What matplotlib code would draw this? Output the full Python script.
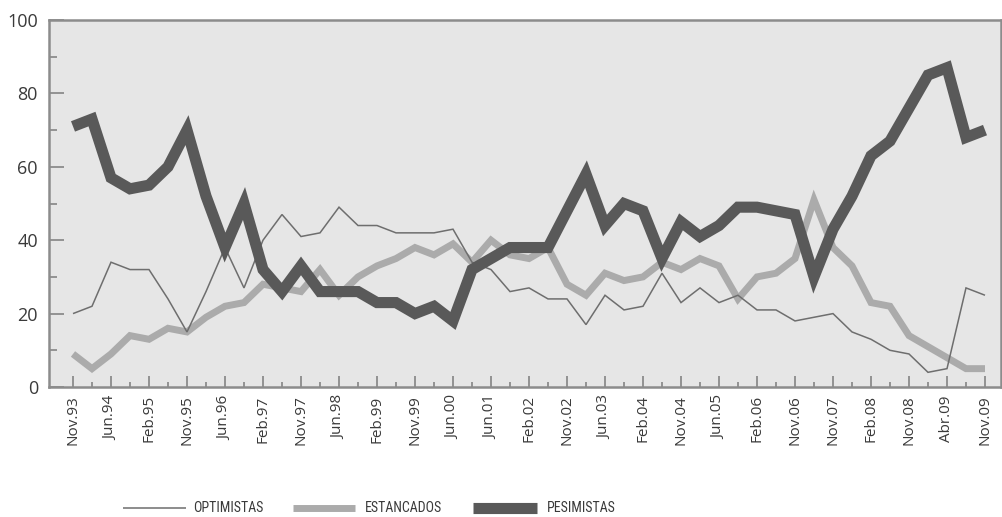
import matplotlib
matplotlib.use("Agg")
import matplotlib.pyplot as plt
from matplotlib.lines import Line2D
from matplotlib import font_manager
import numpy as np

plt.rcParams['font.family'] = ['Open Sans', 'DejaVu Sans']

# ---- data ----
tick_labels = ["Nov.93", "Jun.94", "Feb.95", "Nov.95", "Jun.96", "Feb.97", "Nov.97",
               "Jun.98", "Feb.99", "Nov.99", "Jun.00", "Jun.01", "Feb.02", "Nov.02",
               "Jun.03", "Feb.04", "Nov.04", "Jun.05", "Feb.06", "Nov.06", "Nov.07",
               "Feb.08", "Nov.08", "Abr.09", "Nov.09"]

optimistas = [20, 22, 34, 32, 32, 24, 15, 26, 38, 27,
              40, 47, 41, 42, 49, 44, 44, 42, 42, 42,
              43, 34, 32, 26, 27, 24, 24, 17, 25, 21,
              22, 31, 23, 27, 23, 25, 21, 21, 18, 19,
              20, 15, 13, 10, 9, 4, 5, 27, 25]

estancados = [9, 5, 9, 14, 13, 16, 15, 19, 22, 23,
              28, 27, 26, 32, 25, 30, 33, 35, 38, 36,
              39, 34, 40, 36, 35, 38, 28, 25, 31, 29,
              30, 34, 32, 35, 33, 24, 30, 31, 35, 51,
              38, 33, 23, 22, 14, 11, 8, 5, 5]

pesimistas = [71, 73, 57, 54, 55, 60, 70, 52, 38, 50,
              32, 26, 33, 26, 26, 26, 23, 23, 20, 22,
              18, 32, 35, 38, 38, 38, 48, 58, 44, 50,
              48, 35, 45, 41, 44, 49, 49, 48, 47, 30,
              43, 52, 63, 67, 76, 85, 87, 68, 70]

series_names = ["OPTIMISTAS", "ESTANCADOS", "PESIMISTAS"]

# ---- styling ----
c_opt = "#6e6e6e"
c_est = "#ababab"
c_pes = "#595959"
lw_opt, lw_est, lw_pes = 1.1, 5.0, 8.0
bg = "#e6e6e6"
axis_c = "#8c8c8c"
text_c = "#3a3a3a"

# pick a narrow font for the legend if one is installed
legend_font = None
for cand in ["Liberation Sans Narrow", "DejaVu Sans Condensed", "Roboto Condensed",
             "Open Sans Condensed"]:
    try:
        font_manager.findfont(cand, fallback_to_default=False)
        legend_font = cand
        break
    except Exception:
        pass
if legend_font is None:
    legend_props = dict(family=["Open Sans", "DejaVu Sans"], fontsize=8.5)
else:
    legend_props = dict(family=[legend_font, "DejaVu Sans"], fontsize=10)

W, H = 1002, 517
fig = plt.figure(figsize=(W / 100, H / 100), dpi=100)
left_px, right_px, top_px, bot_px = 49, 1001, 20, 387
ax = fig.add_axes([left_px / W, 1 - bot_px / H, (right_px - left_px) / W, (bot_px - top_px) / H])
ax.set_facecolor(bg)

x = np.arange(len(pesimistas))
kw = dict(solid_joinstyle="miter", solid_capstyle="butt")
ax.plot(x, optimistas, color=c_opt, lw=lw_opt, **kw, zorder=3)
ax.plot(x, estancados, color=c_est, lw=lw_est, **kw, zorder=2)
ax.plot(x, pesimistas, color=c_pes, lw=lw_pes, **kw, zorder=4)

ax.set_ylim(0, 100)
ax.set_xlim((left_px - 73) / 19, (right_px - 73) / 19)

ax.set_yticks(np.arange(0, 101, 20))
ax.set_yticks(np.arange(10, 100, 20), minor=True)
ax.set_xticks(x[::2])
ax.set_xticklabels(tick_labels, rotation=90, va="top", ha="center")
ax.set_xticks(x[1::2], minor=True)

ax.tick_params(axis="y", which="major", direction="in", length=11, width=1.3,
               color=axis_c, labelsize=13, labelcolor=text_c, pad=8)
ax.tick_params(axis="y", which="minor", direction="in", length=6, width=1.3, color=axis_c)
ax.tick_params(axis="x", which="major", direction="in", length=8, width=1.3,
               color=axis_c, labelsize=11, labelcolor=text_c, pad=6)
ax.tick_params(axis="x", which="minor", direction="in", length=3.5, width=1.3, color=axis_c)

for s in ax.spines.values():
    s.set_color(axis_c)
    s.set_linewidth(1.8)

# ---- legend (drawn in figure coordinates) ----
leg_y = 1 - 508 / H
handles = [(123, 186, c_opt, lw_opt), (293, 355, c_est, lw_est), (473, 537, c_pes, lw_pes)]
text_x = [193, 365, 547]
for (x0, x1, c, lw), tx, name in zip(handles, text_x, series_names):
    fig.add_artist(Line2D([x0 / W, x1 / W], [leg_y, leg_y], color=c, lw=lw,
                          solid_capstyle="butt", transform=fig.transFigure))
    fig.text(tx / W, leg_y, name, ha="left", va="center", color=text_c, **legend_props)

fig.savefig("out.png", dpi=100, facecolor="white")
